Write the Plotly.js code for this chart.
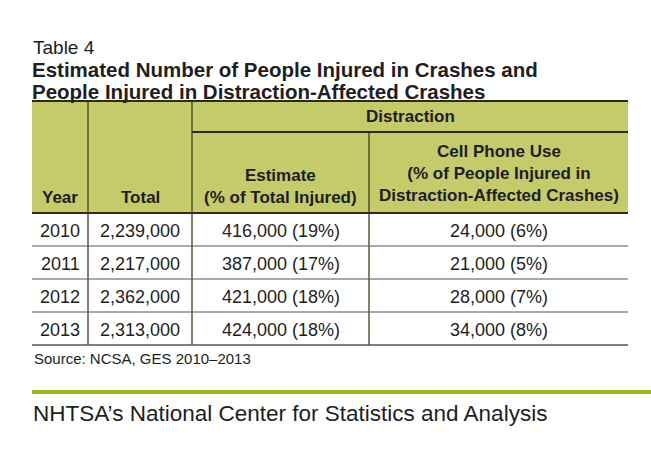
<!DOCTYPE html>
<html>
<head>
<meta charset="utf-8">
<script src="https://cdn.plot.ly/plotly-3.0.1.min.js"></script>
<style>html,body{margin:0;padding:0;background:#fff;}#chart{width:651px;height:452px;}</style>
</head>
<body>
<div id="chart"></div>
<script>
// ---- data ----
var years = ["2010", "2011", "2012", "2013"];
var totalInjured = ["2,239,000", "2,217,000", "2,362,000", "2,313,000"];
var distractionEstimate = ["416,000", "387,000", "421,000", "424,000"];
var distractionPct = ["19%", "17%", "18%", "18%"];
var cellPhoneEstimate = ["24,000", "21,000", "28,000", "34,000"];
var cellPhonePct = ["6%", "5%", "7%", "8%"];
var headerLabels = ["Year", "Total", "Estimate<br>(% of Total Injured)", "Cell Phone Use<br>(% of People Injured in<br>Distraction-Affected Crashes)"];
var groupLabel = "Distraction";
var tableLabel = "Table 4";
var titleLines = ["Estimated Number of People Injured in Crashes and", "People Injured in Distraction-Affected Crashes"];
var sourceText = "Source: NCSA, GES 2010\u20132013";
var footerText = "NHTSA\u2019s National Center for Statistics and Analysis";

// ---- layout geometry ----
var colEdges = [32, 88, 192, 369, 628];
var headTop = 101, groupBottom = 132, headBottom = 213, rowH = 33;
var FONT = "Liberation Sans, Arial, Helvetica, sans-serif";
var ink = "#1e1e1e";

var shapes = [];
var ann = [];
function line(x0, y0, x1, y1, color, w) {
  shapes.push({type: "line", xref: "x", yref: "y", x0: x0, y0: y0, x1: x1, y1: y1, line: {color: color, width: w}});
}
// header fill
shapes.push({type: "rect", xref: "x", yref: "y", x0: colEdges[0], x1: colEdges[4], y0: headTop, y1: headBottom, fillcolor: "#c5ca6b", line: {width: 0}, layer: "below"});
var nRows = years.length;
var bodyBottom = headBottom + nRows * rowH;
// vertical dividers
line(colEdges[1], headTop, colEdges[1], bodyBottom, "#3f4020", 1.3);
line(colEdges[2], headTop, colEdges[2], bodyBottom, "#3f4020", 1.3);
line(colEdges[3], groupBottom, colEdges[3], bodyBottom, "#3f4020", 1.3);
// horizontal lines
line(colEdges[0], headTop, colEdges[4], headTop, "#2c2c18", 2);
line(colEdges[2], groupBottom, colEdges[4], groupBottom, "#2c2c18", 2);
line(colEdges[0], headBottom, colEdges[4], headBottom, "#2c2c18", 2.2);
for (var i = 1; i <= nRows; i++) {
  var yy = headBottom + i * rowH;
  line(colEdges[0], yy, colEdges[4], yy, "#555555", i === nRows ? 1.6 : 1.2);
}
// green rule
line(32, 392, 651, 392, "#a4b11f", 4);

function text(x, y, t, size, opts) {
  opts = opts || {};
  ann.push({xref: "x", yref: "y", x: x, y: y, text: t, showarrow: false,
    xanchor: opts.xanchor || "center", yanchor: opts.yanchor || "middle", align: opts.align || "center",
    borderpad: opts.borderpad !== undefined ? opts.borderpad : 1,
    font: {family: FONT, size: size, color: opts.color || ink}});
}
function mid(a, b) { return (a + b) / 2; }

// titles
text(31, 47, tableLabel, 19, {xanchor: "left"});
text(31, 69, "<b>" + titleLines[0] + "</b>", 20.5, {xanchor: "left", borderpad: 0});
text(31, 91, "<b>" + titleLines[1] + "</b>", 20.5, {xanchor: "left", borderpad: 0});

// header
text(mid(colEdges[2], colEdges[4]), 116, "<b>" + groupLabel + "</b>", 17);
text(mid(colEdges[0], colEdges[1]), 197, "<b>" + headerLabels[0] + "</b>", 17);
text(mid(colEdges[1], colEdges[2]), 197, "<b>" + headerLabels[1] + "</b>", 17);
text(mid(colEdges[2], colEdges[3]), 186, "<b>" + headerLabels[2] + "</b>", 17);
text(mid(colEdges[3], colEdges[4]), 173, "<b>" + headerLabels[3] + "</b>", 17);

// body
for (var r = 0; r < nRows; r++) {
  var cy = headBottom + r * rowH + rowH / 2 + 1;
  text(mid(colEdges[0], colEdges[1]), cy, years[r], 18);
  text(mid(colEdges[1], colEdges[2]), cy, totalInjured[r], 18);
  text(mid(colEdges[2], colEdges[3]), cy, distractionEstimate[r] + " (" + distractionPct[r] + ")", 18);
  text(mid(colEdges[3], colEdges[4]), cy, cellPhoneEstimate[r] + " (" + cellPhonePct[r] + ")", 18);
}
text(32, 358, sourceText, 15, {xanchor: "left"});
text(31, 413, footerText, 22.5, {xanchor: "left"});

var layout = {
  width: 651, height: 452,
  margin: {l: 0, r: 0, t: 0, b: 0, pad: 0},
  paper_bgcolor: "#ffffff", plot_bgcolor: "#ffffff",
  xaxis: {range: [0, 651], visible: false, fixedrange: true},
  yaxis: {range: [452, 0], visible: false, fixedrange: true},
  shapes: shapes, annotations: ann, showlegend: false
};
Plotly.newPlot("chart", [{x: [], y: [], type: "scatter", hoverinfo: "skip"}], layout, {staticPlot: true, displayModeBar: false});
</script>
</body>
</html>
